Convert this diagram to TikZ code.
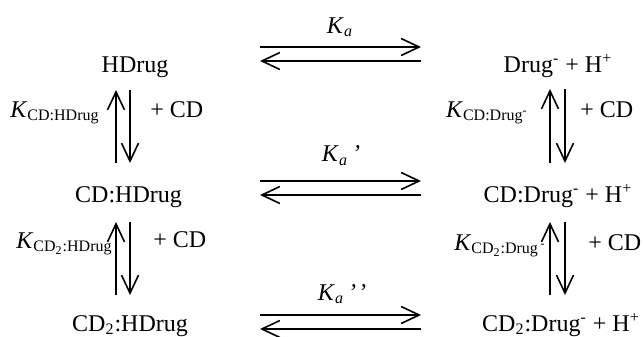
\documentclass[tikz,border=0pt]{standalone}
\usepackage{fontspec}
\setmainfont{Liberation Serif}
\usetikzlibrary{arrows.meta, calc}

\begin{document}
\begin{tikzpicture}[
    x=0.5pt, y=-0.5pt,
    font=\fontsize{12}{14}\selectfont,
    species/.style={anchor=base, inner sep=1pt},
    klabel/.style={anchor=base east, inner sep=0pt},
    kconst/.style={anchor=base, inner sep=0pt},
    addcd/.style={anchor=base west, inner sep=0pt},
    eq/.style={-{Straight Barb[length=9pt, width=8.5pt]}, line width=0.8pt},
]
\useasboundingbox (0,0) rectangle (644,337);

% Species, left column (protonated)
\node[species] (hdrug) at (135,72) {HDrug};
\node[species] (cdhdrug) at (128.5,202) {CD:HDrug};
\node[species] (cdtwohdrug) at (130,331) {CD\textsubscript{2}:HDrug};

% Species, right column (deprotonated)
\node[species] (drug) at (558,72) {Drug\textsuperscript{-} + H\textsuperscript{+}};
\node[species] (cddrug) at (558,202) {CD:Drug\textsuperscript{-} + H\textsuperscript{+}};
\node[species] (cdtwodrug) at (561,331) {CD\textsubscript{2}:Drug\textsuperscript{-} + H\textsuperscript{+}};

% Acid dissociation, top row
\node[kconst] (ka) at (340,33) {\textit{K}\textsubscript{\textit{a}}};
\coordinate (kaw) at (260,54);
\coordinate (kae) at (421,54);
\draw[eq] ($(kaw)+(0,-7)$) -- ($(kae)+(0,-7)$);
\draw[eq] ($(kae)+(0,7)$) -- ($(kaw)+(0,7)$);

% Acid dissociation, middle row
\node[kconst] (kaone) at (341,162) {\textit{K}\textsubscript{\textit{a}}\,\textit{’}};
\coordinate (kaonew) at (260,188);
\coordinate (kaonee) at (421,188);
\draw[eq] ($(kaonew)+(0,-7)$) -- ($(kaonee)+(0,-7)$);
\draw[eq] ($(kaonee)+(0,7)$) -- ($(kaonew)+(0,7)$);

% Acid dissociation, bottom row
\node[kconst] (katwo) at (342,300) {\textit{K}\textsubscript{\textit{a}}\,\textit{’\kern1pt’}};
\coordinate (katwow) at (260,322);
\coordinate (katwoe) at (421,322);
\draw[eq] ($(katwow)+(0,-7)$) -- ($(katwoe)+(0,-7)$);
\draw[eq] ($(katwoe)+(0,7)$) -- ($(katwow)+(0,7)$);

% CD binding, left column
\node[klabel] (khone) at (100,117) {\textit{K}\textsubscript{CD:HDrug}};
\node[addcd] (cdhone) at (150,117) {+ CD};
\coordinate (lonen) at (123,90);
\coordinate (lones) at (123,163);
\draw[eq] ($(lones)+(-7,0)$) -- ($(lonen)+(-7,0)$);
\draw[eq] ($(lonen)+(7,0)$) -- ($(lones)+(7,0)$);

\node[klabel] (khtwo) at (113,248) {\textit{K}\textsubscript{CD\textsubscript{2}:HDrug}};
\node[addcd] (cdhtwo) at (153,247) {+ CD};
\coordinate (ltwon) at (123,222);
\coordinate (ltwos) at (123,295);
\draw[eq] ($(ltwos)+(-7,0)$) -- ($(ltwon)+(-7,0)$);
\draw[eq] ($(ltwon)+(7,0)$) -- ($(ltwos)+(7,0)$);

% CD binding, right column
\node[klabel] (kdone) at (529,117) {\textit{K}\textsubscript{CD:Drug\textsuperscript{-}}};
\node[addcd] (cddone) at (580,117) {+ CD};
\coordinate (ronen) at (557.5,89);
\coordinate (rones) at (557.5,163);
\draw[eq] ($(rones)+(-7.5,0)$) -- ($(ronen)+(-7.5,0)$);
\draw[eq] ($(ronen)+(7.5,0)$) -- ($(rones)+(7.5,0)$);

\node[klabel] (kdtwo) at (547,250) {\textit{K}\textsubscript{CD\textsubscript{2}:Drug\,\textsuperscript{-}}};
\node[addcd] (cddtwo) at (588,250) {+ CD};
\coordinate (rtwon) at (557.5,222);
\coordinate (rtwos) at (557.5,295);
\draw[eq] ($(rtwos)+(-7.5,0)$) -- ($(rtwon)+(-7.5,0)$);
\draw[eq] ($(rtwon)+(7.5,0)$) -- ($(rtwos)+(7.5,0)$);

\end{tikzpicture}
\end{document}
